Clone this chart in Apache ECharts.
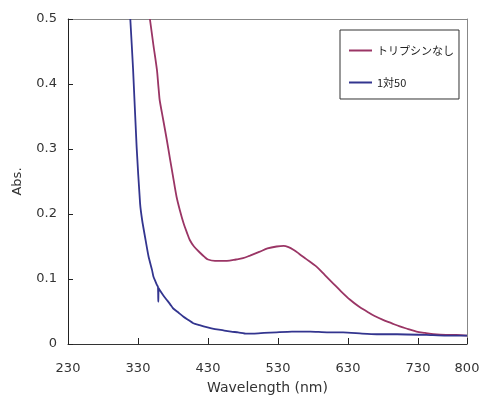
<!DOCTYPE html>
<html><head><meta charset="utf-8">
<script src="https://cdn.jsdelivr.net/npm/echarts@6/dist/echarts.min.js"></script>
<style>html,body{margin:0;padding:0;background:#fff}#c{width:483px;height:395px}</style>
</head><body><div id="c"></div>
<script>
var seriesNames = ['トリプシンなし', '1対50'];
var xTicks = [230, 330, 430, 530, 630, 730, 800];
var yTicks = [0, 0.1, 0.2, 0.3, 0.4, 0.5];

var redWl = [347,352,357,359,360,361,366,371,376,380,385,390,395,400,404,410,419,425,430,440,457,470,480,490,504,515,528,538,545,552,560,570,585,597,609,620,633,645,657,668,680,692,704,716,728,740,752,770,785,800];
var redAbs = [0.500,0.460,0.422,0.398,0.386,0.375,0.345,0.315,0.283,0.258,0.227,0.205,0.186,0.171,0.160,0.150,0.140,0.134,0.130,0.128,0.128,0.130,0.132,0.136,0.142,0.147,0.150,0.151,0.149,0.145,0.139,0.131,0.119,0.106,0.093,0.081,0.068,0.058,0.050,0.043,0.037,0.032,0.027,0.023,0.019,0.017,0.015,0.014,0.014,0.013];

var blueWl = [319,323,328,333,336,340,345,350,352,355,357,358.5,359,359.5,361,366,371,376,380,388,395,402,409,418,428,440,452,463,473,485,495,510,528,550,576,600,623,650,671,700,742,770,800];
var blueAbs = [0.500,0.422,0.304,0.216,0.190,0.165,0.135,0.114,0.104,0.096,0.091,0.088,0.065,0.086,0.083,0.075,0.068,0.061,0.055,0.048,0.042,0.037,0.032,0.029,0.026,0.023,0.021,0.019,0.018,0.016,0.016,0.017,0.018,0.019,0.019,0.018,0.018,0.016,0.015,0.015,0.014,0.013,0.013];

function pairs(xs, ys){ return xs.map(function(x,i){ return [x, ys[i]]; }); }

var font = 'DejaVu Sans';
var xMin = xTicks[0], xMax = xTicks[xTicks.length-1];
var yMin = yTicks[0], yMax = yTicks[yTicks.length-1];
var chart = echarts.init(document.getElementById('c'), null, {renderer:'canvas'});
chart.setOption({
  animation:false,
  backgroundColor:'#fff',
  textStyle:{fontFamily:font},
  grid:{left:68, right:16, top:19, bottom:51, show:false, containLabel:false, outerBoundsMode:'none'},
  legend:{
    orient:'vertical', left:340, top:30,
    padding:[15,5,11,9], itemGap:21,
    borderColor:'#333', borderWidth:1, backgroundColor:'#fff',
    itemWidth:23, itemHeight:2, icon:'rect',
    textStyle:{fontFamily:'Noto Sans CJK JP', fontSize:11, color:'#222'},
    data:seriesNames
  },
  xAxis:[{
    type:'value', min:xMin, max:xMax, interval:100, position:'bottom',
    name:'Wavelength (nm)', nameLocation:'middle', nameGap:37,
    nameTextStyle:{fontSize:14, color:'#333', fontFamily:font},
    axisLine:{show:true, onZero:false, lineStyle:{color:'#333', width:1}},
    axisTick:{show:true, inside:true, length:6, lineStyle:{color:'#222', width:1}},
    axisLabel:{fontSize:13, color:'#333', margin:18, fontFamily:font, showMaxLabel:true, showMinLabel:true},
    splitLine:{show:false}
  },{
    type:'value', min:xMin, max:xMax, interval:100, position:'top',
    axisLine:{show:true, onZero:false, lineStyle:{color:'#888', width:1}},
    axisTick:{show:false}, axisLabel:{show:false}, splitLine:{show:false}
  }],
  yAxis:[{
    type:'value', min:yMin, max:yMax, interval:0.1, position:'left',
    name:'Abs.', nameLocation:'middle', nameGap:44,
    nameTextStyle:{fontSize:13, color:'#333', fontFamily:font},
    axisLine:{show:true, onZero:false, lineStyle:{color:'#222', width:1}},
    axisTick:{show:true, inside:true, length:5, lineStyle:{color:'#222', width:1}},
    axisLabel:{fontSize:13, color:'#333', margin:11, fontFamily:font,
      formatter:function(v){ return v===0 ? '0' : String(Math.round(v*10)/10); }},
    splitLine:{show:false}
  },{
    type:'value', min:yMin, max:yMax, interval:0.1, position:'right',
    axisLine:{show:true, onZero:false, lineStyle:{color:'#888', width:1}},
    axisTick:{show:false}, axisLabel:{show:false}, splitLine:{show:false}
  }],
  series:[
    {name:seriesNames[0], type:'line', data:pairs(redWl, redAbs), showSymbol:false, symbol:'none', smooth:0.3, clip:true,
     lineStyle:{color:'#9a3565', width:1.8}, itemStyle:{color:'#9a3565'}},
    {name:seriesNames[1], type:'line', data:pairs(blueWl, blueAbs), showSymbol:false, symbol:'none', smooth:0.2, clip:true,
     lineStyle:{color:'#33358f', width:1.8}, itemStyle:{color:'#33358f'}}
  ]
});
</script></body></html>
